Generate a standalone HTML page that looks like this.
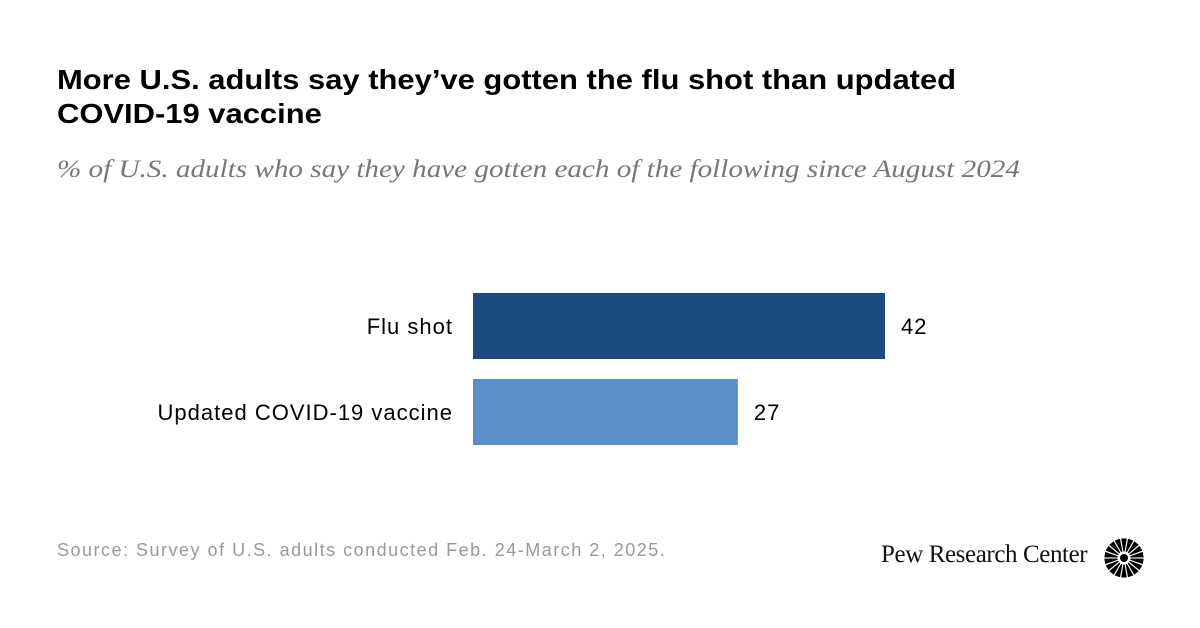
<!DOCTYPE html>
<html><head><meta charset="utf-8"><style>
body{margin:0;width:1200px;height:628px;background:#fff;position:relative;overflow:hidden;font-family:"Liberation Sans",sans-serif}
.t{position:absolute;left:57px;top:63px;font-size:28px;font-weight:bold;color:#000;line-height:34px;transform:scaleX(1.105);transform-origin:0 0;white-space:nowrap}
.s{position:absolute;left:57px;top:156px;font-size:25px;font-style:italic;font-family:"Liberation Serif",serif;color:#777;transform:scaleX(1.165);transform-origin:0 0;white-space:nowrap}
.src{position:absolute;left:57px;top:540px;font-size:18px;color:#999;letter-spacing:1.5px;white-space:nowrap}
.logo{position:absolute;left:881px;top:541px;font-family:"Liberation Serif",serif;font-size:25px;color:#111;letter-spacing:-0.4px;white-space:nowrap}
</style></head><body>
<div class="t">More U.S. adults say they’ve gotten the flu shot than updated<br>COVID-19 vaccine</div>
<div class="s">% of U.S. adults who say they have gotten each of the following since August 2024</div>
<svg id="c" width="1200" height="628" style="position:absolute;left:0;top:0"></svg>
<div class="src">Source: Survey of U.S. adults conducted Feb. 24-March 2, 2025.</div>
<div class="logo">Pew Research Center</div>
<svg width="42" height="42" style="position:absolute;left:1103px;top:537px" viewBox="-21 -21 42 42">
<g id="rays"></g><circle r="4" fill="#000"/></svg>
<script>
const categories=["Flu shot","Updated COVID-19 vaccine"];
const values=[42,27];
const colors=["#1c4a7e","#5b8fcb"];
const x0=473,scale=9.81,y0=293,bh=66,gap=86;
const svg=document.getElementById('c');const ns="http://www.w3.org/2000/svg";
categories.forEach((c,i)=>{
 const y=y0+i*gap;
 const r=document.createElementNS(ns,'rect');
 
 
 r.setAttribute('x',x0);r.setAttribute('y',y);r.setAttribute('width',values[i]*scale);r.setAttribute('height',bh);r.setAttribute('fill',colors[i]);svg.appendChild(r);
 const l=document.createElementNS(ns,'text');
 
 
 l.setAttribute('x',x0-20);l.setAttribute('y',y+bh/2+8);l.setAttribute('text-anchor','end');l.setAttribute('font-size','22');l.setAttribute('letter-spacing','1');l.setAttribute('fill','#000');l.textContent=c;svg.appendChild(l);
 const v=document.createElementNS(ns,'text');
 
 
 v.setAttribute('x',x0+values[i]*scale+16);v.setAttribute('y',y+bh/2+8);v.setAttribute('font-size','22');v.setAttribute('letter-spacing','1');v.setAttribute('fill','#000');v.textContent=values[i];svg.appendChild(v);
});
const g=document.getElementById('rays');
for(let k=0;k<18;k++){const p=document.createElementNS(ns,'path');p.setAttribute('d','M-0.6,-6.5 L0.6,-6.5 L2.8,-19.5 L-2.8,-19.5Z');p.setAttribute('fill','#000');p.setAttribute('transform','rotate('+(k*20)+')');g.appendChild(p);}
</script>
</body></html>
